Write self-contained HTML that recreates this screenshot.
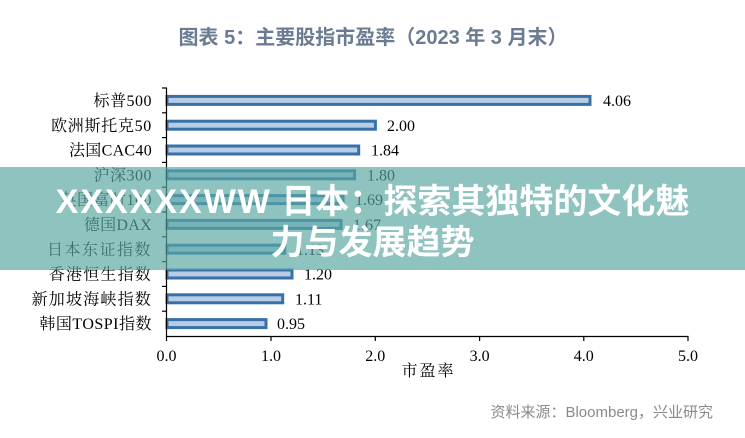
<!DOCTYPE html>
<html>
<head>
<meta charset="utf-8">
<style>
  html, body { margin:0; padding:0; background:#fff; }
  body { width:745px; height:438px; position:relative; overflow:hidden; }
  svg { position:absolute; left:0; top:0; }
  .band { position:absolute; left:0; top:167px; width:745px; height:103px; background:rgba(88,167,161,0.68); }
  .ov { position:absolute; left:0; top:182px; width:745px; text-align:center; color:#fff;
        font-family:"Liberation Sans","Noto Sans CJK SC",sans-serif; font-weight:bold; font-size:34px; line-height:41px; white-space:nowrap; }
  .ov .lat { letter-spacing:2px; }
</style>
</head>
<body>
<svg width="745" height="438" viewBox="0 0 745 438" xmlns="http://www.w3.org/2000/svg">
  <text x="373" y="44" text-anchor="middle" fill="#6b7b92" font-family="Liberation Sans, Noto Sans CJK SC, sans-serif" font-weight="bold" font-size="20">图表 5：主要股指市盈率（2023 年 3 月末）</text>

  <g font-family="Liberation Serif, Noto Serif CJK SC, serif" font-size="16" fill="#000">
    <!-- bars -->
    <g fill="#b7cce5" stroke="#3870a8" stroke-width="3">
      <rect x="167" y="96.4" width="423" height="8"/>
      <rect x="167" y="121.2" width="208.4" height="8"/>
      <rect x="167" y="146" width="191.7" height="8"/>
      <rect x="167" y="170.8" width="187.6" height="8"/>
      <rect x="167" y="195.6" width="176.1" height="8"/>
      <rect x="167" y="220.4" width="174" height="8"/>
      <rect x="167" y="245.2" width="117.7" height="8"/>
      <rect x="167" y="270" width="125" height="8"/>
      <rect x="167" y="294.8" width="115.7" height="8"/>
      <rect x="167" y="319.6" width="99" height="8"/>
    </g>
    <!-- axes -->
    <g stroke="#000" stroke-width="1.2" fill="none">
      <line x1="166.5" y1="88" x2="166.5" y2="336.5"/>
      <line x1="166" y1="336.5" x2="688.5" y2="336.5"/>
      <line x1="162" y1="88" x2="167" y2="88"/>
      <line x1="162" y1="112.8" x2="167" y2="112.8"/>
      <line x1="162" y1="137.6" x2="167" y2="137.6"/>
      <line x1="162" y1="162.4" x2="167" y2="162.4"/>
      <line x1="162" y1="187.2" x2="167" y2="187.2"/>
      <line x1="162" y1="212" x2="167" y2="212"/>
      <line x1="162" y1="236.8" x2="167" y2="236.8"/>
      <line x1="162" y1="261.6" x2="167" y2="261.6"/>
      <line x1="162" y1="286.4" x2="167" y2="286.4"/>
      <line x1="162" y1="311.2" x2="167" y2="311.2"/>
      <line x1="166.5" y1="336" x2="166.5" y2="341"/>
      <line x1="271" y1="336" x2="271" y2="341"/>
      <line x1="375.3" y1="336" x2="375.3" y2="341"/>
      <line x1="479.6" y1="336" x2="479.6" y2="341"/>
      <line x1="583.8" y1="336" x2="583.8" y2="341"/>
      <line x1="688" y1="336" x2="688" y2="341"/>
    </g>
    <!-- category labels -->
    <g text-anchor="end">
      <text x="152" y="106" letter-spacing="0.5">标普500</text>
      <text x="152" y="130.8" letter-spacing="0.7">欧洲斯托克50</text>
      <text x="152" y="155.6" letter-spacing="0.3">法国CAC40</text>
      <text x="152" y="180.4" letter-spacing="0.5">沪深300</text>
      <text x="152" y="205.2" letter-spacing="0.5">英国富时100</text>
      <text x="152" y="230" letter-spacing="0.3">德国DAX</text>
      <text x="152" y="254.8" letter-spacing="1.5">日本东证指数</text>
      <text x="152" y="279.6" letter-spacing="1.2">香港恒生指数</text>
      <text x="152" y="304.4" letter-spacing="1.2">新加坡海峡指数</text>
      <text x="152" y="329.2" letter-spacing="0.5">韩国TOSPI指数</text>
    </g>
    <!-- value labels -->
    <g>
      <text x="603" y="106">4.06</text>
      <text x="387" y="130.8">2.00</text>
      <text x="371" y="155.6">1.84</text>
      <text x="367" y="180.4">1.80</text>
      <text x="355" y="205.2">1.69</text>
      <text x="353" y="230">1.67</text>
      <text x="296" y="254.8">1.13</text>
      <text x="304" y="279.6">1.20</text>
      <text x="295" y="304.4">1.11</text>
      <text x="277" y="329.2">0.95</text>
    </g>
    <!-- x tick labels -->
    <g text-anchor="middle">
      <text x="166.5" y="361">0.0</text>
      <text x="271" y="361">1.0</text>
      <text x="375.3" y="361">2.0</text>
      <text x="479.6" y="361">3.0</text>
      <text x="583.8" y="361">4.0</text>
      <text x="688" y="361">5.0</text>
    </g>
    <text x="428.5" y="376" text-anchor="middle" letter-spacing="2">市盈率</text>
  </g>

  <text x="713" y="417" text-anchor="end" fill="#8a8a8a" font-family="Liberation Sans, Noto Sans CJK SC, sans-serif" font-size="15">资料来源：Bloomberg，兴业研究</text>
</svg>
<div class="band"></div>
<div class="ov"><span class="lat">XXXXXXWW</span> 日本：探索其独特的文化魅<br>力与发展趋势</div>
</body>
</html>
